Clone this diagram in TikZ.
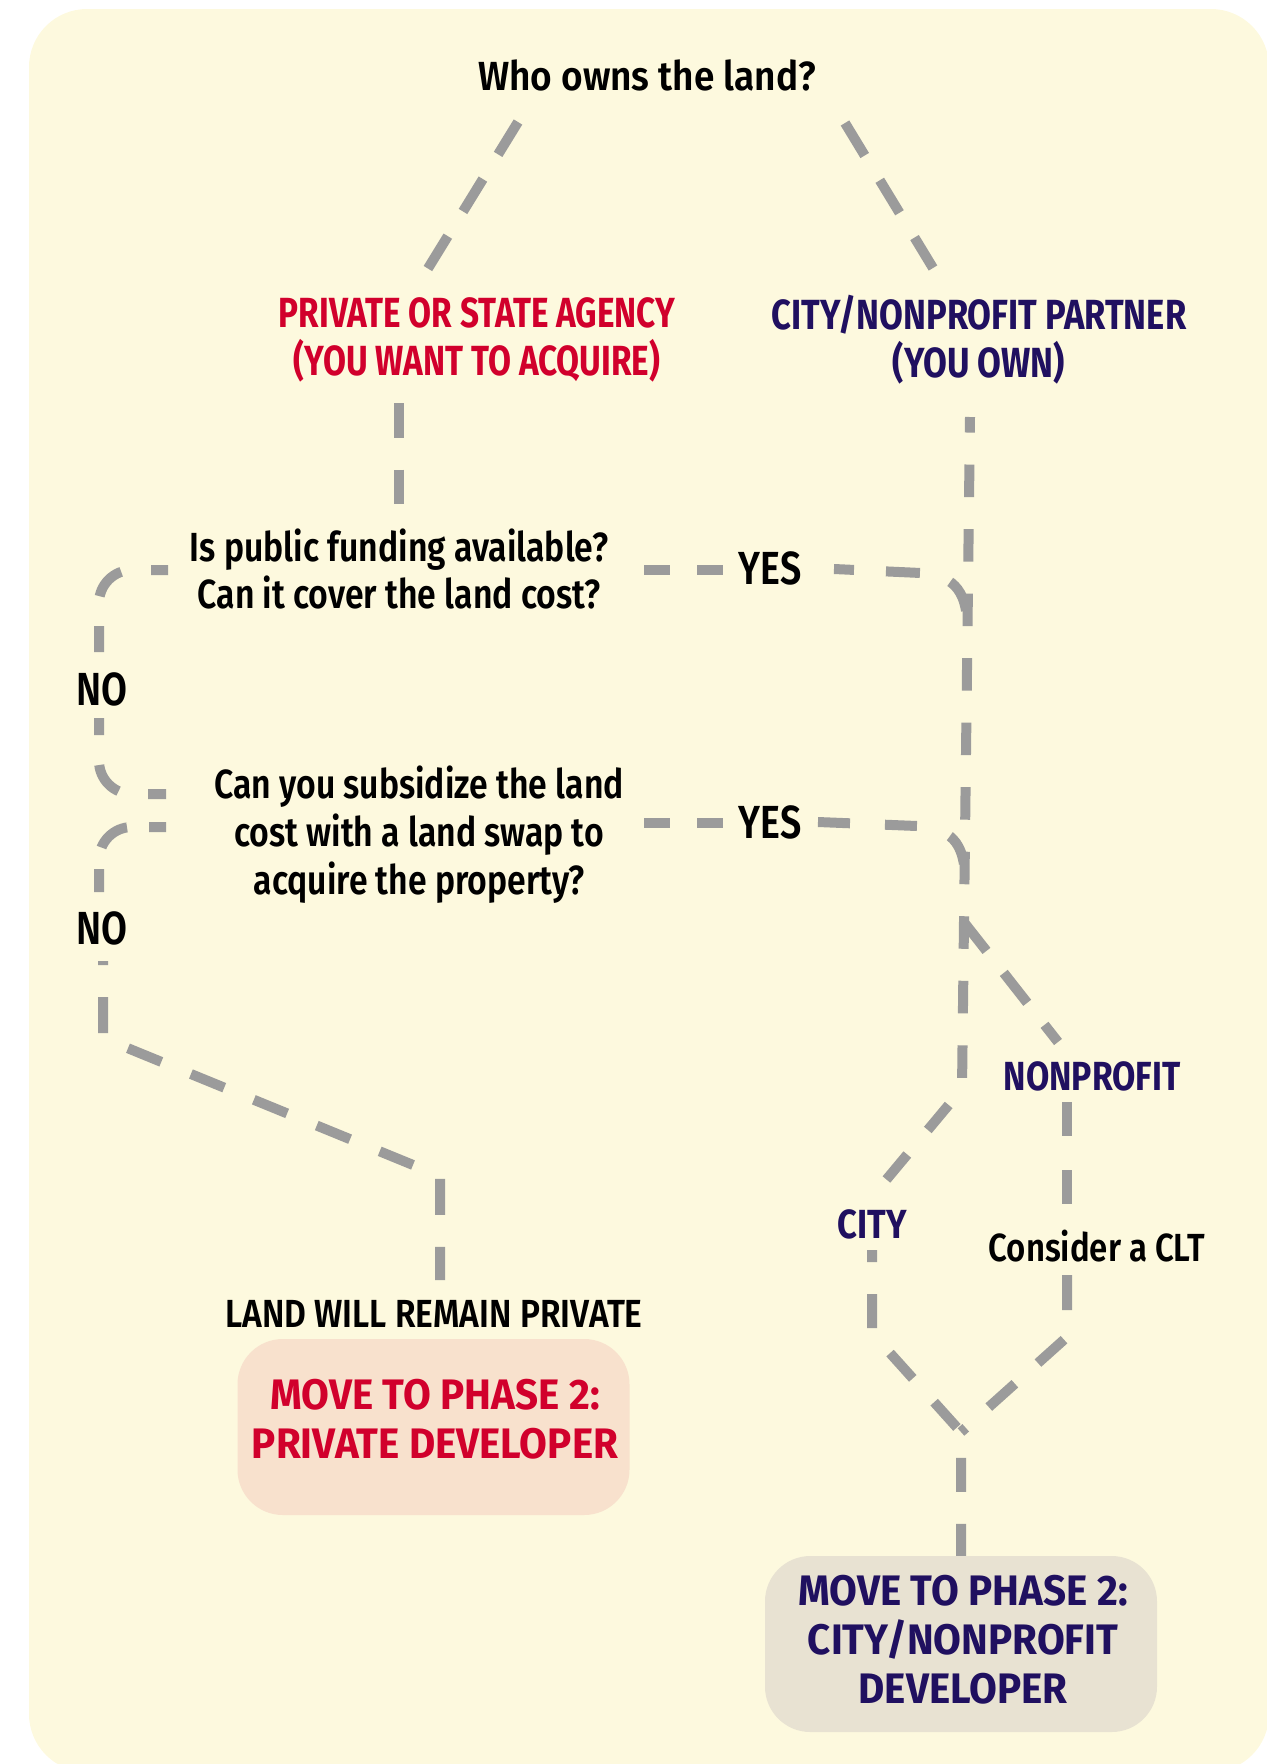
\documentclass[tikz,border=0pt]{standalone}
\usepackage{fontspec}
\IfFontExistsTF{Fira Sans SemiBold}{\def\SBname{Fira Sans SemiBold}}
  {\IfFontExistsTF{Fira Sans Medium}{\def\SBname{Fira Sans Medium}}{\def\SBname{Fira Sans}}}
\newfontfamily\fWho{\SBname}[FakeStretch=0.91]
\newfontfamily\fQ{\SBname}[FakeStretch=0.83]
\newfontfamily\fYN{\SBname}[FakeStretch=0.81]
\newfontfamily\fClt{\SBname}[FakeStretch=0.84]
\newfontfamily\fLand{\SBname}[FakeStretch=0.857]
\newfontfamily\fHdrR{Fira Sans}[FakeStretch=0.79]
\newfontfamily\fHdrB{Fira Sans}[FakeStretch=0.82]
\newfontfamily\fLbl{Fira Sans}[FakeStretch=0.85]
\newfontfamily\fLblN{Fira Sans}[FakeStretch=0.83]
\newfontfamily\fBox{Fira Sans}[FakeStretch=0.945]
\definecolor{bgc}{HTML}{FDF9DE}
\definecolor{gr}{HTML}{9B9B9B}
\definecolor{redc}{HTML}{D1002C}
\definecolor{navy}{HTML}{201060}
\definecolor{pboxc}{HTML}{F8E1CD}
\definecolor{cboxc}{HTML}{E8E2D2}
\begin{document}
\begin{tikzpicture}[x=0.75pt,y=-0.75pt,
  conn/.style={draw=gr, line width=7.5pt, line cap=butt, dash pattern=on 24.75pt off 24pt},
  whot/.style={inner sep=0pt, anchor=base, font=\fWho\fontsize{30.5}{35}\selectfont},
  ques/.style={inner sep=0pt, align=center, font=\fQ\fontsize{30.5}{35.5}\selectfont},
  hdr/.style={inner sep=0pt, align=center},
  yn/.style={inner sep=0pt, anchor=base, font=\fYN\fontsize{34.8}{40}\selectfont},
  lbl/.style={inner sep=0pt, anchor=base, text=navy, font=\fLbl\bfseries\fontsize{30.5}{35}\selectfont},
  clt/.style={inner sep=0pt, anchor=base, font=\fClt\fontsize{29.4}{34}\selectfont},
  landt/.style={inner sep=0pt, anchor=base, font=\fLand\fontsize{29.4}{34}\selectfont},
  boxtxt/.style={inner sep=0pt, align=center, font=\fBox\bfseries\fontsize{32}{36.75}\selectfont},
  phasebox/.style={draw=none, rounded corners=34pt, minimum width=294pt, minimum height=132pt, inner sep=0pt}]
\useasboundingbox (0,0) rectangle (1267,1764);
\fill[bgc, rounded corners=43.5pt] (29,9) rectangle (1269,1772);

% texts
\node[whot] (who) at (647,90) {Who owns the land?};
\node[hdr, text=redc, font=\fHdrR\bfseries\fontsize{31.6}{36}\selectfont] (priv) at (477,340) {PRIVATE OR STATE AGENCY\\(YOU WANT TO ACQUIRE)};
\node[hdr, text=navy, font=\fHdrB\bfseries\fontsize{31.6}{36}\selectfont] (own) at (979,340) {CITY/NONPROFIT PARTNER\\(YOU OWN)};
\node[ques] (q1) at (399,569) {Is public funding available?\\Can it cover the land cost?};
\node[ques, font=\fQ\fontsize{30.5}{36}\selectfont] (q2) at (419,835) {Can you subsidize the land\\cost with a land swap to\\acquire the property?};
\node[yn] (yes1) at (770,584) {YES};
\node[yn] (yes2) at (770,838) {YES};
\node[yn] (no1) at (102,705) {NO};
\node[yn] (no2) at (102,944) {NO};
\node[lbl, font=\fLblN\bfseries\fontsize{30.5}{35}\selectfont] (nonp) at (1092,1090) {NONPROFIT};
\node[lbl] (cityl) at (872,1238) {CITY};
\node[clt] (clt) at (1097,1261) {Consider a CLT};
\node[landt] (land) at (434,1327) {LAND WILL REMAIN PRIVATE};

\node[phasebox, fill=pboxc] (pbox) at (433.5,1427) {};
\node[boxtxt, text=redc] (ptxt) at (435,1419) {MOVE TO PHASE 2:\\PRIVATE DEVELOPER};
\node[phasebox, fill=cboxc] (cbox) at (961,1644) {};
\node[boxtxt, text=navy] (ctxt) at (963,1640) {MOVE TO PHASE 2:\\CITY/NONPROFIT\\DEVELOPER};

% connector end points
\coordinate (wl1) at (518,122); \coordinate (wl2) at (427,270);
\coordinate (wr1) at (845,123); \coordinate (wr2) at (933,268);
\coordinate (pv1) at (399,403); \coordinate (pv2) at (399,504);
\coordinate (mv1) at (970,417); \coordinate (mv2) at (962,1089);
\coordinate (cd1) at (876,1192);
\coordinate (nb) at (963,921); \coordinate (nd) at (1058,1042);
\coordinate (nv1) at (1067,1102); \coordinate (nv2) at (1067,1205);
\coordinate (nv3) at (1067,1275); \coordinate (nv4) at (1067,1337);
\coordinate (meet) at (961,1432);
\coordinate (cv1) at (872,1250); \coordinate (cv2) at (872,1333);

\draw[conn, dash pattern=on 28.5pt off 21.75pt] (wl1) -- (wl2);
\draw[conn, dash pattern=on 28.5pt off 21.75pt] (wr1) -- (wr2);
\draw[conn, dash pattern=on 25.9pt off 24pt] (pv1) -- (pv2);
\draw[conn, dash pattern=on 24.4pt off 24pt, dash phase=12.75pt] (mv1) -- (mv2) -- (cd1);
\draw[conn, dash pattern=on 28.5pt off 21pt] (nb) -- (nd);
\draw[conn, dash pattern=on 25.5pt off 25.5pt] (nv1) -- (nv2);
\draw[conn, dash pattern=on 26.25pt off 23.25pt] (nv3) -- (nv4) -- (meet);
\draw[conn, dash pattern=on 25.5pt off 24pt, dash phase=16.5pt] (cv1) -- (cv2) -- (meet) -- (cbox.north);

% YES connectors
\draw[conn, dash pattern=on 19.5pt off 20.25pt] (644,570) -- (723,570);
\draw[conn, dash pattern=on 25.5pt off 24pt, dash phase=10.5pt] (834,569) -- (921,573) .. controls (950,575) and (967,588) .. (967,625) -- (967,640);
\draw[conn, dash pattern=on 19.5pt off 20.25pt] (644,823) -- (723,823);
\draw[conn, dash pattern=on 24pt off 26.25pt] (818,822) -- (917,826) .. controls (950,828) and (965,842) .. (965,880) -- (965,892);

% NO connectors
\draw[conn, dash pattern=on 25.5pt off 22.5pt, dash phase=12.75pt] (168,570) -- (132,570) .. controls (113.8,570) and (99,584.8) .. (99,603) -- (99,652);
\draw[conn, dash pattern=on 25.5pt off 22.5pt, dash phase=12.75pt] (99,718) -- (99,761) .. controls (99,779.2) and (113.8,794) .. (132,794) -- (166,794);
\draw[conn, dash pattern=on 25.5pt off 16.5pt, dash phase=12.75pt] (166,827) -- (132,827) .. controls (113.8,827) and (99,841.8) .. (99,860) -- (99,892);
\draw[conn, dash pattern=on 27pt off 24pt, dash phase=24pt] (103,961) -- (103,1038) -- (440,1176) -- (440,1280);
\end{tikzpicture}
\end{document}
